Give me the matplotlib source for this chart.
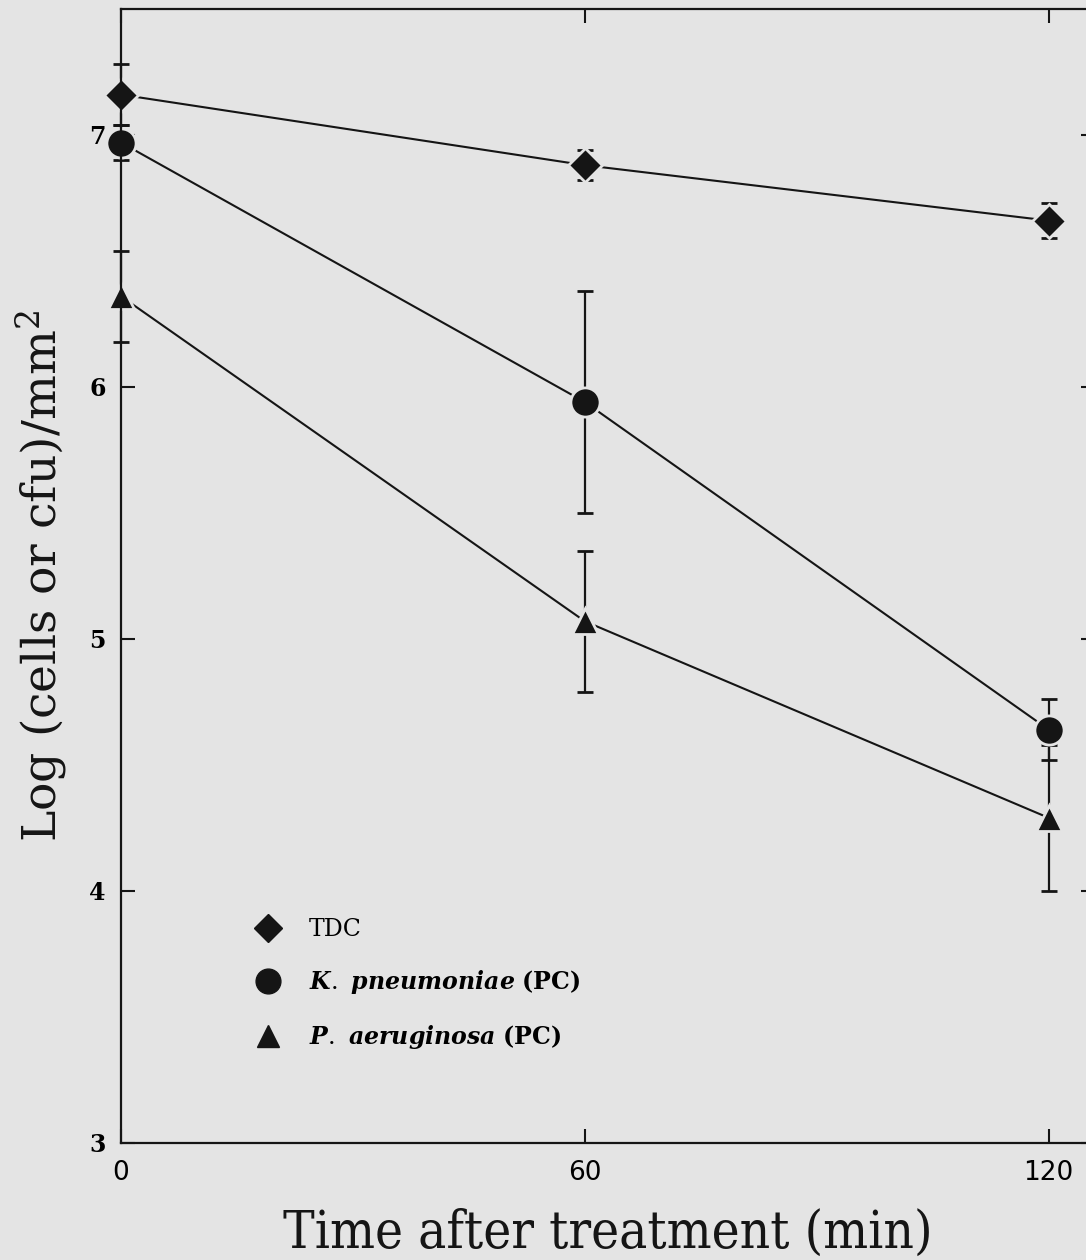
import matplotlib
matplotlib.use('Agg')
import matplotlib.pyplot as plt
from matplotlib.lines import Line2D

# ─────────────────────────────────────────────────────────────
# DATA
# ─────────────────────────────────────────────────────────────
time_min = [0, 60, 120]

tdc_mean = [7.16, 6.88, 6.66]
tdc_err  = [0.12, 0.06, 0.07]

kp_mean  = [6.97, 5.94, 4.64]
kp_err   = [0.07, 0.44, 0.12]

pa_mean  = [6.36, 5.07, 4.29]
pa_err   = [0.18, 0.28, 0.29]

x_ticks = [0, 60, 120]
y_ticks = [3, 4, 5, 6, 7]

# ─────────────────────────────────────────────────────────────
# STYLE
# ─────────────────────────────────────────────────────────────
BG = "#e4e4e4"
INK = "#151515"

plt.rcParams['mathtext.fontset'] = 'custom'
plt.rcParams['mathtext.rm'] = 'DejaVu Serif'
plt.rcParams['mathtext.it'] = 'DejaVu Serif:italic:bold'
plt.rcParams['mathtext.bf'] = 'DejaVu Serif:bold'

fig = plt.figure(figsize=(10.86, 12.6), dpi=100, facecolor=BG)
ax = fig.add_axes([0.1114, 0.0929, 0.897, 0.900])
ax.set_facecolor(BG)

common = dict(color=INK, lw=1.5, elinewidth=1.6, capsize=6, capthick=1.6,
              markeredgecolor=BG, markeredgewidth=2.0, clip_on=False)

series = [
    (tdc_mean, tdc_err, 'D', 17, 'TDC'),
    (kp_mean,  kp_err,  'o', 21, r'$K.\ pneumoniae$ $\mathbf{(PC)}$'),
    (pa_mean,  pa_err,  '^', 19, r'$P.\ aeruginosa$ $\mathbf{(PC)}$'),
]
handles = []
for mean, err, mk, ms, lab in series:
    ax.errorbar(time_min, mean, yerr=err, marker=mk, ms=ms, **common)
    handles.append(Line2D([], [], ls='none', marker=mk, ms=ms * 0.85,
                          color=INK, markeredgecolor=INK, label=lab))

ax.set_xlim(0, 126)
ax.set_ylim(3, 7.5)
ax.set_xticks(x_ticks)
ax.set_yticks(y_ticks)

for spine in ax.spines.values():
    spine.set_color(INK)
    spine.set_linewidth(1.6)

ax.tick_params(axis='both', direction='in', length=10, width=1.5,
               color=INK, top=True, right=True)
ax.tick_params(axis='x', pad=12)
ax.tick_params(axis='y', pad=11)

for lab in ax.get_xticklabels():
    lab.set_fontfamily(['Liberation Sans Narrow', 'DejaVu Sans'])
    lab.set_fontsize(19)
for lab in ax.get_yticklabels():
    lab.set_fontfamily('DejaVu Serif')
    lab.set_fontweight('bold')
    lab.set_fontsize(17)

ax.set_xlabel('Time after treatment (min)', fontfamily='DejaVu Serif',
              fontstretch='condensed', fontsize=38, color=INK, labelpad=16)
ax.set_ylabel(r'Log (cells or cfu)/mm$^2$', fontfamily='DejaVu Serif',
              fontsize=34, color=INK, labelpad=14)

ax.legend(handles=handles, loc='lower left', bbox_to_anchor=(0.118, 0.062),
          frameon=False, handlelength=0.9, handletextpad=1.3,
          labelspacing=1.15, numpoints=1,
          prop=dict(family='DejaVu Serif', size=17))

fig.savefig('out.png', dpi=100, facecolor=BG)
